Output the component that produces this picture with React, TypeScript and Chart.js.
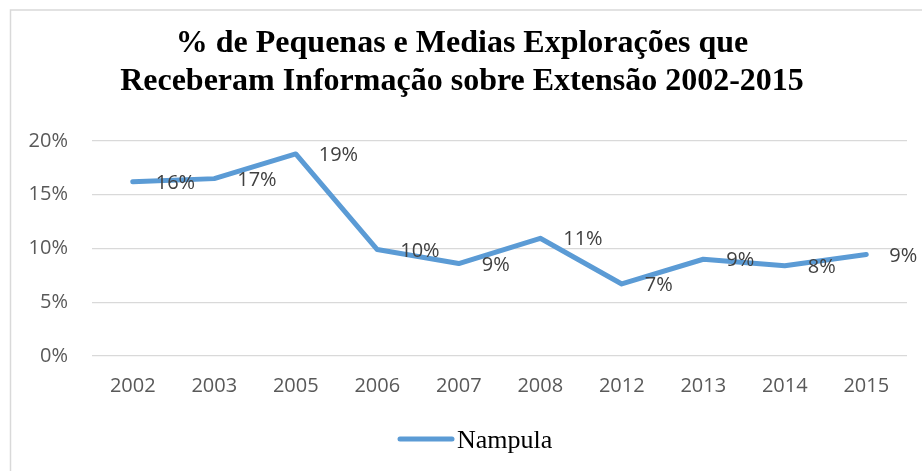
import React, { useEffect, useRef } from "react";
import { Chart, registerables } from "chart.js";

Chart.register(...registerables);

const titleLines = [
  "% de Pequenas e Medias Explorações que",
  "Receberam Informação sobre Extensão 2002-2015",
];
const years = ["2002", "2003", "2005", "2006", "2007", "2008", "2012", "2013", "2014", "2015"];
const nampula = [16.2, 16.5, 18.8, 9.9, 8.6, 10.95, 6.7, 9.0, 8.4, 9.45];
const seriesName = "Nampula";
const yTicks = [0, 5, 10, 15, 20];

const LINE_COLOR = "#5b9bd5";
const SANS = "'Open Sans', 'Liberation Sans', sans-serif";
const SERIF = "'Liberation Serif', 'Times New Roman', serif";

const decorPlugin = {
  id: "decor",
  beforeDraw(chart: any) {
    const ctx = chart.ctx;
    ctx.save();
    ctx.fillStyle = "#ffffff";
    ctx.fillRect(0, 0, chart.width, chart.height);
    // outer border (top and left visible)
    ctx.strokeStyle = "#d9d9d9";
    ctx.lineWidth = 1.5;
    ctx.beginPath();
    ctx.moveTo(10.5, chart.height + 5);
    ctx.lineTo(10.5, 10);
    ctx.lineTo(chart.width + 5, 10);
    ctx.stroke();
    ctx.restore();
  },
  afterDraw(chart: any) {
    const ctx = chart.ctx;
    ctx.save();
    // title
    ctx.fillStyle = "#000000";
    ctx.font = `bold 32px ${SERIF}`;
    ctx.textAlign = "center";
    ctx.textBaseline = "alphabetic";
    ctx.fillText(titleLines[0], 462, 52);
    ctx.fillText(titleLines[1], 462, 90);

    // data labels
    const meta = chart.getDatasetMeta(0);
    ctx.font = `20px ${SANS}`;
    ctx.fillStyle = "#404040";
    ctx.textAlign = "left";
    ctx.textBaseline = "middle";
    meta.data.forEach((pt: any, i: number) => {
      const v = chart.data.datasets[0].data[i] as number;
      ctx.fillText(Math.round(v) + "%", pt.x + 23, pt.y + 1.5);
    });

    // legend
    ctx.strokeStyle = LINE_COLOR;
    ctx.lineWidth = 5;
    ctx.lineCap = "round";
    ctx.beginPath();
    ctx.moveTo(400, 439);
    ctx.lineTo(452, 439);
    ctx.stroke();
    ctx.fillStyle = "#000000";
    ctx.font = `26px ${SERIF}`;
    ctx.textAlign = "left";
    ctx.textBaseline = "alphabetic";
    ctx.fillText(seriesName, 457, 448);
    ctx.restore();
  },
};

export default function App() {
  const ref = useRef<HTMLCanvasElement>(null);

  useEffect(() => {
    if (!ref.current) return;
    const chart = new Chart(ref.current, {
      type: "line",
      data: {
        labels: years,
        datasets: [
          {
            label: seriesName,
            data: nampula,
            borderColor: LINE_COLOR,
            backgroundColor: LINE_COLOR,
            borderWidth: 5,
            pointRadius: 0,
            borderCapStyle: "round",
            borderJoinStyle: "round",
            tension: 0,
          },
        ],
      },
      options: {
        responsive: false,
        animation: false,
        layout: { padding: { top: 141, right: 15, bottom: 65, left: 0 } },
        plugins: {
          legend: { display: false },
          title: { display: false },
          tooltip: { enabled: false },
        },
        scales: {
          x: {
            offset: true,
            grid: { display: false, drawTicks: false },
            border: { display: false },
            ticks: {
              color: "#595959",
              font: { family: SANS, size: 20 },
              padding: 18,
              maxRotation: 0,
            },
            afterFit: (s: any) => {
              s.height = 50;
            },
          },
          y: {
            min: 0,
            max: 20,
            afterBuildTicks: (s: any) => {
              s.ticks = yTicks.map((v) => ({ value: v }));
            },
            grid: { color: "#d9d9d9", lineWidth: 1.3, drawTicks: false },
            border: { display: false },
            ticks: {
              color: "#595959",
              font: { family: SANS, size: 20 },
              padding: 24,
              callback: (v: any) => v + "%",
            },
            afterFit: (s: any) => {
              s.width = 92;
            },
          },
        },
      },
      plugins: [decorPlugin],
    });
    return () => chart.destroy();
  }, []);

  return (
    <div style={{ position: "fixed", left: 0, top: 0, width: 922, height: 471, background: "#fff" }}>
      <canvas ref={ref} width={922} height={471} style={{ width: 922, height: 471, display: "block" }} />
    </div>
  );
}
